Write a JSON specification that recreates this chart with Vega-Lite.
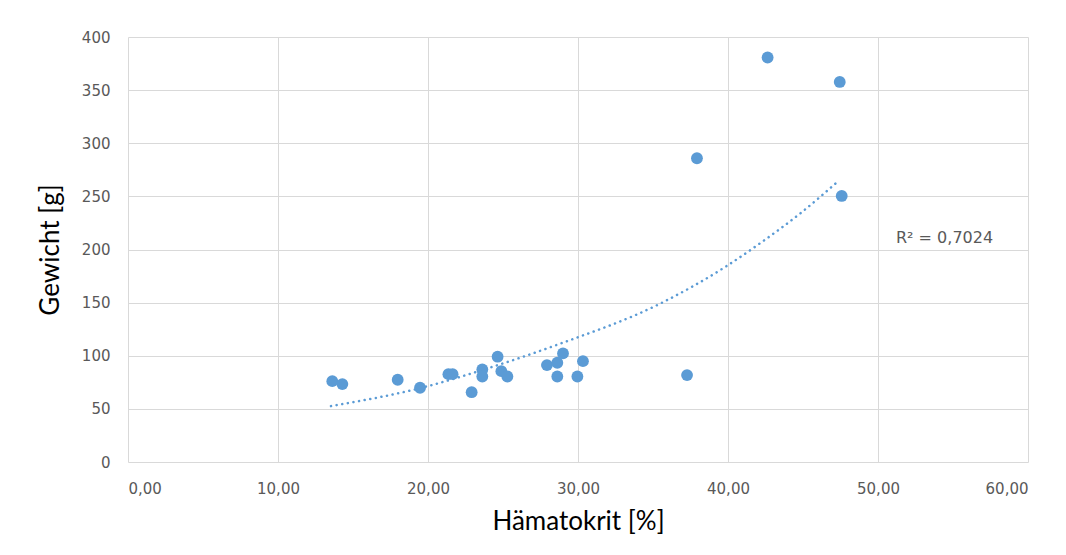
{
  "$schema": "https://vega.github.io/schema/vega-lite/v6.json",
  "autosize": {"type": "none"},
  "width": 900,
  "height": 425,
  "padding": {"left": 128, "top": 37, "right": 38, "bottom": 93},
  "background": "white",
  "config": {
    "locale": {"number": {"decimal": ",", "thousands": ".", "grouping": [3], "currency": ["", " €"]}},
    "view": {"stroke": null},
    "font": "Lato",
    "axis": {
      "grid": true,
      "gridColor": "#D9D9D9",
      "gridWidth": 1,
      "domain": false,
      "ticks": false,
      "labelFont": "DejaVu Sans",
      "labelFontSize": 15,
      "labelColor": "#595959",
      "titleFont": "Lato",
      "titleFontSize": 26,
      "titleFontWeight": "normal",
      "titleColor": "#000000"
    }
  },
  "datasets": {
    "points": [
      {"hkt": 13.62, "gewicht": 76.1},
      {"hkt": 14.29, "gewicht": 73.3},
      {"hkt": 17.98, "gewicht": 77.4},
      {"hkt": 19.47, "gewicht": 69.9},
      {"hkt": 21.36, "gewicht": 82.7},
      {"hkt": 21.64, "gewicht": 82.7},
      {"hkt": 22.91, "gewicht": 65.7},
      {"hkt": 23.62, "gewicht": 87.1},
      {"hkt": 23.62, "gewicht": 80.5},
      {"hkt": 24.64, "gewicht": 99.1},
      {"hkt": 24.89, "gewicht": 85.5},
      {"hkt": 25.29, "gewicht": 80.5},
      {"hkt": 27.93, "gewicht": 91.2},
      {"hkt": 28.62, "gewicht": 93.4},
      {"hkt": 28.62, "gewicht": 80.5},
      {"hkt": 29.0, "gewicht": 102.2},
      {"hkt": 29.96, "gewicht": 80.5},
      {"hkt": 30.33, "gewicht": 94.9},
      {"hkt": 37.27, "gewicht": 81.8},
      {"hkt": 37.93, "gewicht": 285.9},
      {"hkt": 42.64, "gewicht": 380.7},
      {"hkt": 47.45, "gewicht": 357.7},
      {"hkt": 47.58, "gewicht": 250.4}
    ],
    "trend": [
      {"hkt": 13.53, "gewicht": 52.6},
      {"hkt": 19.47, "gewicht": 69.5},
      {"hkt": 23.9, "gewicht": 87.8},
      {"hkt": 28.8, "gewicht": 111.3},
      {"hkt": 35.47, "gewicht": 149.0},
      {"hkt": 39.87, "gewicht": 184.1},
      {"hkt": 42.25, "gewicht": 207.0},
      {"hkt": 44.8, "gewicht": 233.8},
      {"hkt": 47.36, "gewicht": 264.5}
    ],
    "label": [
      {"hkt": 51.2, "gewicht": 210.5, "text": "R² = 0,7024"}
    ]
  },
  "layer": [
    {
      "data": {"name": "trend"},
      "mark": {"type": "line", "color": "#5B9BD5", "strokeWidth": 2.5, "strokeCap": "round", "strokeDash": [0.1, 5.6], "interpolate": "monotone"},
      "encoding": {
        "x": {"field": "hkt", "type": "quantitative", "scale": {"domain": [0, 60], "nice": false}, "axis": {"values": [0, 10, 20, 30, 40, 50, 60], "format": ".2f", "title": "Hämatokrit [%]", "labelPadding": 19, "titlePadding": 12}},
        "y": {"field": "gewicht", "type": "quantitative", "scale": {"domain": [0, 400], "nice": false}, "axis": {"values": [0, 50, 100, 150, 200, 250, 300, 350, 400], "title": "Gewicht [g]", "labelPadding": 18, "titlePadding": 18}}
      }
    },
    {
      "data": {"name": "points"},
      "mark": {"type": "circle", "color": "#5B9BD5", "opacity": 1, "size": 140},
      "encoding": {
        "x": {"field": "hkt", "type": "quantitative"},
        "y": {"field": "gewicht", "type": "quantitative"}
      }
    },
    {
      "data": {"name": "label"},
      "mark": {"type": "text", "align": "left", "baseline": "middle", "fontSize": 16, "color": "#595959", "font": "DejaVu Sans"},
      "encoding": {
        "x": {"field": "hkt", "type": "quantitative"},
        "y": {"field": "gewicht", "type": "quantitative"},
        "text": {"field": "text"}
      }
    }
  ]
}
